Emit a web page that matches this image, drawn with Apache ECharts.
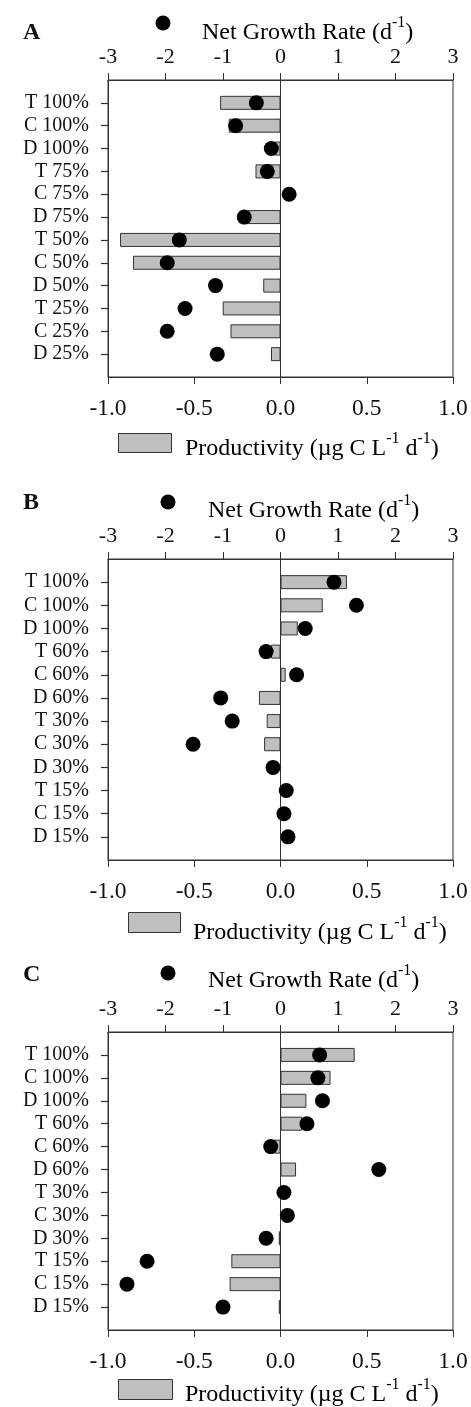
<!DOCTYPE html>
<html lang="en">
<head>
    <meta charset="UTF-8">
    <title>Productivity and net growth rate</title>
    <script src="https://cdn.jsdelivr.net/npm/echarts@6/dist/echarts.min.js"></script>
    <style>
        html, body { margin: 0; padding: 0; background: #fff; }
        #main { width: 471px; height: 1407px; }
    </style>
</head>
<body>
<div id="main"></div>
<script type="text/javascript">
    // categories per panel
    var catsA = ['T 100%', 'C 100%', 'D 100%', 'T 75%', 'C 75%', 'D 75%', 'T 50%', 'C 50%', 'D 50%', 'T 25%', 'C 25%', 'D 25%'];
    var catsB = ['T 100%', 'C 100%', 'D 100%', 'T 60%', 'C 60%', 'D 60%', 'T 30%', 'C 30%', 'D 30%', 'T 15%', 'C 15%', 'D 15%'];
    var catsC = catsB;

    // productivity (bars, bottom axis)
    var prodA = [-0.35, -0.30, -0.035, -0.145, 0, -0.19, -0.93, -0.855, -0.10, -0.335, -0.29, -0.055];
    var prodB = [0.385, 0.245, 0.10, -0.055, 0.03, -0.125, -0.08, -0.095, 0, 0, 0, 0];
    var prodC = [0.43, 0.29, 0.15, 0.125, -0.035, 0.09, 0, 0, -0.01, -0.285, -0.295, -0.01];

    // net growth rate (dots, top axis)
    var growthA = [-0.42, -0.78, -0.16, -0.23, 0.15, -0.63, -1.76, -1.97, -1.13, -1.66, -1.97, -1.10];
    var growthB = [0.93, 1.32, 0.43, -0.25, 0.28, -1.04, -0.84, -1.52, -0.13, 0.10, 0.06, 0.13];
    var growthC = [0.68, 0.65, 0.73, 0.46, -0.17, 1.71, 0.06, 0.12, -0.25, -2.32, -2.67, -1.00];

    var topTicks = [-3, 3, 1];
    var bottomTicks = [-1, 1, 0.5];

    var FONT = "'Liberation Serif', 'Times New Roman', serif";
    var INK = '#111';
    var LINE = '#333';
    var BARFILL = '#bfbfbf';

    function pad(arr) { return [null].concat(arr, [null]); }

    var panels = [
        {cats: catsA, prod: prodA, growth: growthA, top: 80, height: 297},
        {cats: catsB, prod: prodB, growth: growthB, top: 559, height: 301},
        {cats: catsC, prod: prodC, growth: growthC, top: 1032, height: 298}
    ];

    var grid = [], xAxis = [], yAxis = [], series = [];
    panels.forEach(function (p, i) {
        grid.push({left: 108, width: 345, top: p.top, height: p.height,
            show: true, borderColor: LINE, borderWidth: 1, backgroundColor: 'transparent'});
        // top axis: net growth rate
        xAxis.push({
            gridIndex: i, type: 'value', position: 'top',
            min: topTicks[0], max: topTicks[1], interval: topTicks[2],
            axisLine: {show: true, onZero: false, lineStyle: {color: LINE, width: 1}},
            axisTick: {show: true, length: 7, lineStyle: {color: LINE}},
            axisLabel: {margin: 12, color: INK, fontFamily: FONT, fontSize: 22},
            splitLine: {show: false}
        });
        // bottom axis: productivity
        xAxis.push({
            gridIndex: i, type: 'value', position: 'bottom',
            min: bottomTicks[0], max: bottomTicks[1], interval: bottomTicks[2],
            axisLine: {show: true, onZero: false, lineStyle: {color: LINE, width: 1}},
            axisTick: {show: true, length: 7, lineStyle: {color: LINE}},
            axisLabel: {margin: 20, color: INK, fontFamily: FONT, fontSize: 23.5,
                formatter: function (v) { return v.toFixed(1); }},
            splitLine: {show: false}
        });
        // padded ends so rows sit one step in from the frame; no ticks at the corners
        var n = p.cats.length + 2;
        yAxis.push({
            gridIndex: i, type: 'category', inverse: true, boundaryGap: false,
            data: pad(p.cats).map(function (c) { return c === null ? '' : c; }),
            axisLine: {show: true, onZero: false, lineStyle: {color: LINE}},
            axisTick: {show: true, length: 7, lineStyle: {color: LINE, width: 1.2},
                interval: function (idx) { return idx > 0 && idx < n - 1; }},
            axisLabel: {margin: 19, color: INK, fontFamily: FONT, fontSize: 20, interval: 0}
        });
        series.push({
            name: 'Productivity', type: 'bar', xAxisIndex: i * 2 + 1, yAxisIndex: i,
            data: pad(p.prod), barWidth: 14, silent: true,
            itemStyle: {color: BARFILL, borderColor: LINE, borderWidth: 1},
            markLine: {silent: true, symbol: 'none', label: {show: false},
                lineStyle: {color: LINE, width: 1, type: 'solid'},
                data: [{xAxis: 0}]}
        });
        series.push({
            name: 'Net Growth Rate', type: 'scatter', xAxisIndex: i * 2, yAxisIndex: i,
            data: pad(p.growth), symbolSize: 15, silent: true, z: 5,
            itemStyle: {color: '#000', opacity: 1}
        });
    });

    var rich = {
        n: {fontSize: 24, fontFamily: FONT, color: INK, lineHeight: 30, verticalAlign: 'bottom'},
        s: {fontSize: 16, fontFamily: FONT, color: INK, lineHeight: 16, verticalAlign: 'top'}
    };
    var growthTitle = '{n|Net Growth Rate (d}{s|-1}{n|)}';
    var prodTitle = '{n|Productivity (\u00b5g C L}{s|-1}{n| d}{s|-1}{n|)}';

    // legend / panel label placement
    var deco = [
        {tag: 'A', tagY: 33, dot: [163, 23], gx: 202, gy: 30, box: [118, 433, 53, 19], px: 185, py: 446},
        {tag: 'B', tagY: 503, dot: [168, 502], gx: 208, gy: 508, box: [128, 912, 52, 20], px: 193, py: 930},
        {tag: 'C', tagY: 975, dot: [168, 973], gx: 208, gy: 978, box: [118, 1379, 54, 20], px: 185, py: 1392}
    ];
    var graphic = [];
    deco.forEach(function (d) {
        graphic.push({type: 'text', x: 23, y: d.tagY,
            style: {text: d.tag, font: 'bold 24px ' + FONT, fill: INK, verticalAlign: 'middle', align: 'left'}});
        graphic.push({type: 'circle', shape: {cx: d.dot[0], cy: d.dot[1], r: 7.5},
            style: {fill: '#000'}});
        graphic.push({type: 'text', x: d.gx, y: d.gy,
            style: {text: growthTitle, rich: rich, verticalAlign: 'middle', align: 'left'}});
        graphic.push({type: 'rect', shape: {x: d.box[0] + 0.5, y: d.box[1] + 0.5, width: d.box[2], height: d.box[3]},
            style: {fill: BARFILL, stroke: LINE, lineWidth: 1}});
        graphic.push({type: 'text', x: d.px, y: d.py,
            style: {text: prodTitle, rich: rich, verticalAlign: 'middle', align: 'left'}});
    });

    var myChart = echarts.init(document.getElementById('main'), null, {renderer: 'canvas'});
    myChart.setOption({
        animation: false,
        backgroundColor: '#fff',
        textStyle: {fontFamily: FONT},
        grid: grid,
        xAxis: xAxis,
        yAxis: yAxis,
        series: series,
        graphic: graphic
    });
</script>
</body>
</html>
